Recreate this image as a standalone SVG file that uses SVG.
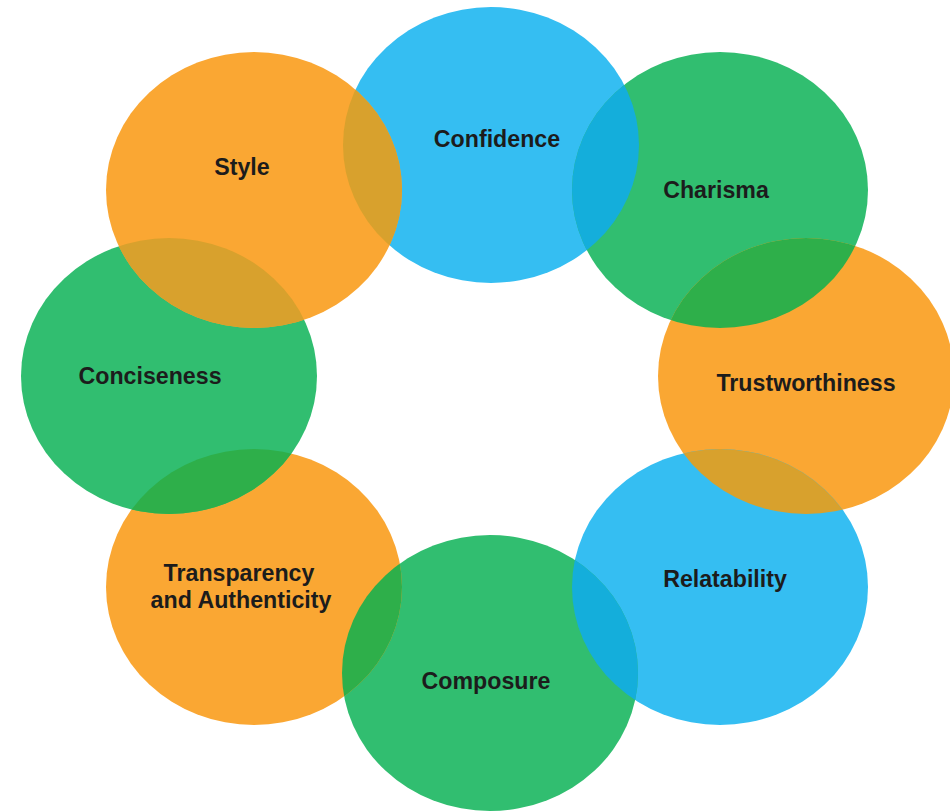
<svg xmlns="http://www.w3.org/2000/svg" xmlns:xlink="http://www.w3.org/1999/xlink" width="950" height="812" viewBox="0 0 950 812">
  <style>
    .blue { fill: #35BEF2; }
    .green { fill: #31BE70; }
    .orange { fill: #FAA733; }
    .ov-blue { fill: #14AEDB; }
    .ov-green { fill: #2EAF4A; }
    .ov-orange { fill: #D8A12D; }
    .lbl { font-family: "Liberation Sans", Arial, sans-serif; font-weight: bold; font-size: 23.2px; fill: #1c1c1c; text-anchor: middle; }
  </style>
  <defs>
    <clipPath id="c-confidence"><ellipse cx="491" cy="145" rx="148" ry="138"/></clipPath>
    <clipPath id="c-charisma"><ellipse cx="720" cy="190" rx="148" ry="138"/></clipPath>
    <clipPath id="c-trust"><ellipse cx="806" cy="376" rx="148" ry="138"/></clipPath>
    <clipPath id="c-relat"><ellipse cx="720" cy="587" rx="148" ry="138"/></clipPath>
    <clipPath id="c-compo"><ellipse cx="490" cy="673" rx="148" ry="138"/></clipPath>
    <clipPath id="c-transp"><ellipse cx="254" cy="587" rx="148" ry="138"/></clipPath>
    <clipPath id="c-concise"><ellipse cx="169" cy="376" rx="148" ry="138"/></clipPath>
    <clipPath id="c-style"><ellipse cx="254" cy="190" rx="148" ry="138"/></clipPath>
  </defs>
  <rect width="950" height="812" fill="#ffffff"/>

  <g id="node-confidence">
    <ellipse class="blue" cx="491" cy="145" rx="148" ry="138"/>
  </g>
  <g id="node-charisma">
    <ellipse class="green" cx="720" cy="190" rx="148" ry="138"/>
  </g>
  <g id="node-trustworthiness">
    <ellipse class="orange" cx="806" cy="376" rx="148" ry="138"/>
  </g>
  <g id="node-relatability">
    <ellipse class="blue" cx="720" cy="587" rx="148" ry="138"/>
  </g>
  <g id="node-composure">
    <ellipse class="green" cx="490" cy="673" rx="148" ry="138"/>
  </g>
  <g id="node-transparency">
    <ellipse class="orange" cx="254" cy="587" rx="148" ry="138"/>
  </g>
  <g id="node-conciseness">
    <ellipse class="green" cx="169" cy="376" rx="148" ry="138"/>
  </g>
  <g id="node-style">
    <ellipse class="orange" cx="254" cy="190" rx="148" ry="138"/>
  </g>

  <g id="overlaps">
    <ellipse class="ov-orange" cx="254" cy="190" rx="148" ry="138" clip-path="url(#c-confidence)"/>
    <ellipse class="ov-blue" cx="491" cy="145" rx="148" ry="138" clip-path="url(#c-charisma)"/>
    <ellipse class="ov-green" cx="720" cy="190" rx="148" ry="138" clip-path="url(#c-trust)"/>
    <ellipse class="ov-orange" cx="806" cy="376" rx="148" ry="138" clip-path="url(#c-relat)"/>
    <ellipse class="ov-blue" cx="720" cy="587" rx="148" ry="138" clip-path="url(#c-compo)"/>
    <ellipse class="ov-green" cx="490" cy="673" rx="148" ry="138" clip-path="url(#c-transp)"/>
    <ellipse class="ov-green" cx="169" cy="376" rx="148" ry="138" clip-path="url(#c-transp)"/>
    <ellipse class="ov-orange" cx="254" cy="190" rx="148" ry="138" clip-path="url(#c-concise)"/>
  </g>

  <g id="labels">
    <text class="lbl" x="497" y="147">Confidence</text>
    <text class="lbl" x="716" y="198">Charisma</text>
    <text class="lbl" x="806" y="391">Trustworthiness</text>
    <text class="lbl" x="725" y="587">Relatability</text>
    <text class="lbl" x="486" y="689">Composure</text>
    <text class="lbl" x="239" y="581">Transparency</text>
    <text class="lbl" x="241" y="608">and Authenticity</text>
    <text class="lbl" x="150" y="384">Conciseness</text>
    <text class="lbl" x="242" y="175">Style</text>
  </g>
</svg>
